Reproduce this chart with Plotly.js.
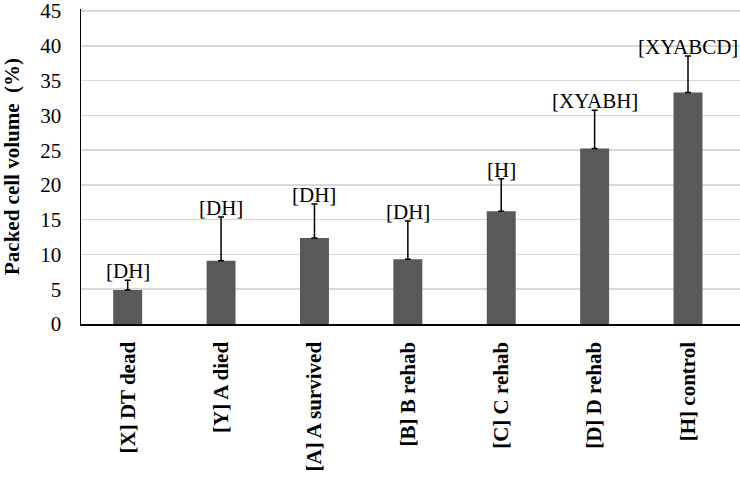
<!DOCTYPE html>
<html>
<head>
<meta charset="utf-8">
<script src="https://cdn.plot.ly/plotly-3.0.1.min.js"></script>
<style>
  html, body { margin: 0; padding: 0; background: #fff; }
  #plot { width: 740px; height: 482px; }
</style>
</head>
<body>
<div id="plot"></div>
<script>
// groups, mean PCV and upper error
const groups = ['[X] DT dead', '[Y] A died', '[A] A survived', '[B] B rehab', '[C] C rehab', '[D] D rehab', '[H] control'];
const pcv = [4.9, 9.1, 12.35, 9.3, 16.2, 25.25, 33.3];
const pcvErr = [1.4, 6.3, 4.9, 5.5, 4.7, 5.5, 5.25];
const letters = ['[DH]', '[DH]', '[DH]', '[DH]', '[H]', '[XYABH]', '[XYABCD]'];
const yTicks = [0, 5, 10, 15, 20, 25, 30, 35, 40, 45];

const serif = "'Liberation Serif', 'Times New Roman', serif";

const trace = {
    type: 'bar',
    x: groups,
    y: pcv,
    marker: { color: '#595959' },
    error_y: {
        type: 'data',
        symmetric: false,
        array: pcvErr,
        arrayminus: pcv.map(() => 0),
        color: '#000',
        thickness: 1.5,
        width: 3
    },
    hoverinfo: 'x+y'
};

// significance letters above each error bar
const notes = groups.map((g, i) => ({
    x: g,
    y: pcv[i] + pcvErr[i],
    text: letters[i],
    showarrow: false,
    yanchor: 'bottom',
    yshift: -5,
    font: { family: serif, size: 21, color: '#000' }
}));

const layout = {
    width: 740,
    height: 482,
    margin: { l: 81, r: 0, t: 9, b: 158 },
    paper_bgcolor: '#fff',
    plot_bgcolor: '#fff',
    showlegend: false,
    bargap: 0.69,
    font: { family: serif, color: '#000' },
    xaxis: {
        type: 'category',
        tickangle: -90,
        tickfont: { family: serif, size: 21, weight: 'bold', color: '#000' },
        showline: true,
        linecolor: '#000',
        linewidth: 1.5,
        ticks: '',
        ticklabelstandoff: 8,
        showgrid: false
    },
    yaxis: {
        range: [0, 45.3],
        tickmode: 'array',
        tickvals: yTicks,
        ticktext: yTicks.map(String),
        ticklabeloverflow: 'allow',
        tickfont: { family: serif, size: 21, color: '#000' },
        showline: true,
        linecolor: '#000',
        linewidth: 1.5,
        gridcolor: '#d9d9d9',
        gridwidth: 1.5,
        zeroline: false,
        ticks: '',
        ticklabelstandoff: 14,
        title: {
            text: 'Packed cell volume  (%)',
            font: { family: serif, size: 21, weight: 'bold', color: '#000' },
            standoff: 17
        }
    },
    annotations: notes
};

Plotly.newPlot('plot', [trace], layout, { displayModeBar: false, staticPlot: true });
</script>
</body>
</html>
